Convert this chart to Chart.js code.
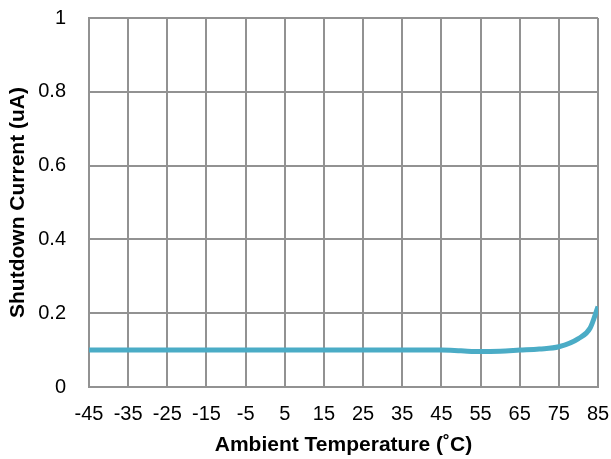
<!DOCTYPE html>
<html>
<head>
<meta charset="utf-8">
<script src="https://cdn.jsdelivr.net/npm/chart.js@4"></script>
<style>
  html, body { margin: 0; padding: 0; background: #fff; }
</style>
</head>
<body>
<canvas id="shutdownChart" width="611" height="459"></canvas>
<script>
// Data
const temps = [-45, -35, -25, -15, -5, 5, 15, 25, 35, 45, 50, 55, 60, 65, 70, 75, 80, 83, 85];
const currents = [0.1, 0.1, 0.1, 0.1, 0.1, 0.1, 0.1, 0.1, 0.1, 0.1, 0.098, 0.096, 0.097, 0.1, 0.103, 0.109, 0.131, 0.16, 0.218];
const xTicks = [-45, -35, -25, -15, -5, 5, 15, 25, 35, 45, 55, 65, 75, 85];
const yTicks = [0, 0.2, 0.4, 0.6, 0.8, 1];

const gridColor = "#929292";
const fontFamily = "'Liberation Sans', Arial, sans-serif";

const ctx = document.getElementById("shutdownChart").getContext("2d");
new Chart(ctx, {
    type: "line",
    data: {
        datasets: [{
            data: temps.map((t, i) => ({ x: t, y: currents[i] })),
            borderColor: "#4BACC6",
            borderWidth: 5,
            pointRadius: 0,
            cubicInterpolationMode: "monotone",
            fill: false,
        }],
    },
    options: {
        responsive: false,
        animation: false,
        layout: {
            padding: { top: 18, right: 13, left: 0, bottom: 0 },
        },
        plugins: {
            legend: { display: false },
            tooltip: { enabled: false },
        },
        scales: {
            x: {
                type: "linear",
                min: -45,
                max: 85,
                afterBuildTicks: s => { s.ticks = xTicks.map(v => ({ value: v })); },
                afterFit: s => {
                    s.height = 72;
                    s.paddingLeft = 0;
                    s.paddingRight = 0;
                },
                grid: { color: gridColor, lineWidth: 2, drawTicks: false },
                border: { color: gridColor, width: 2 },
                ticks: {
                    color: "#000",
                    padding: 15,
                    maxRotation: 0,
                    autoSkip: false,
                    font: { family: fontFamily, size: 20 },
                },
                title: {
                    display: true,
                    text: "Ambient Temperature (˚C)",
                    color: "#000",
                    padding: { top: 0, bottom: 1 },
                    font: { family: fontFamily, size: 21, weight: "bold" },
                },
            },
            y: {
                min: 0,
                max: 1,
                afterBuildTicks: s => { s.ticks = yTicks.map(v => ({ value: v })); },
                afterFit: s => {
                    s.width = 89;
                    s.paddingTop = 0;
                    s.paddingBottom = 0;
                },
                grid: { color: gridColor, lineWidth: 2, drawTicks: false },
                border: { color: gridColor, width: 2 },
                ticks: {
                    color: "#000",
                    padding: 23,
                    font: { family: fontFamily, size: 20 },
                    callback: v => String(v),
                },
                title: {
                    display: true,
                    text: "Shutdown Current (uA)",
                    color: "#000",
                    padding: { top: 6, bottom: 0 },
                    font: { family: fontFamily, size: 21, weight: "bold" },
                },
            },
        },
    },
});
</script>
</body>
</html>
